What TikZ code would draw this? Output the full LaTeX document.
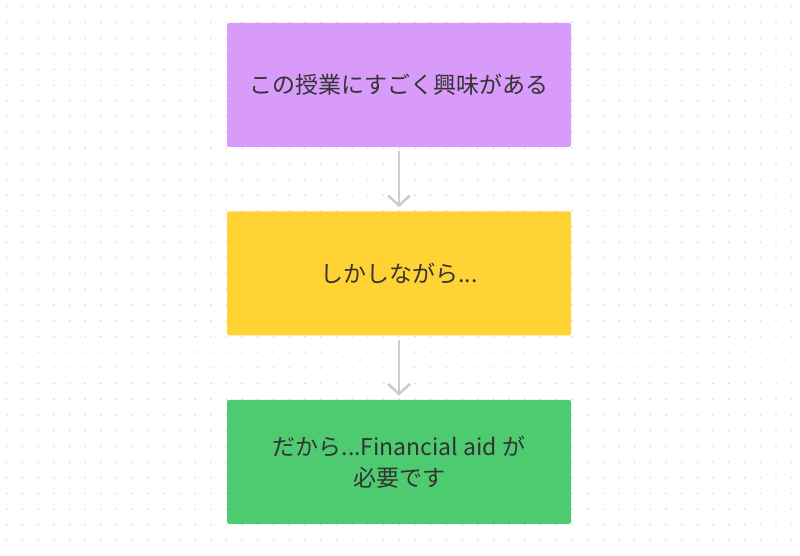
\documentclass[tikz,border=0pt]{standalone}
\usepackage{fontspec}
\setmainfont{Noto Sans CJK JP}
\usetikzlibrary{positioning, arrows.meta}

\definecolor{boxpurple}{HTML}{D89BFA}
\definecolor{boxyellow}{HTML}{FFD333}
\definecolor{boxgreen}{HTML}{4ECB71}
\definecolor{arrowgray}{HTML}{CCCCCC}
\definecolor{dotgray}{HTML}{DEDEDE}
\definecolor{textgray}{HTML}{333333}

\begin{document}
\begin{tikzpicture}[x=1pt, y=-1pt,
		card/.style={rectangle, rounded corners=2pt, minimum width=344pt, minimum height=124pt, inner sep=0pt, align=center, text=textgray, font=\fontsize{23}{31}\selectfont},
		link/.style={-{Straight Barb[length=10pt, width=22pt, line width=2.5pt]}, line width=2.5pt, draw=arrowgray, shorten <=4pt, shorten >=4pt}]
		\def\DotStep{15.7} % odstęp kropek
		\def\DotStart{6.7}
		
		\useasboundingbox (0,0) rectangle (800,556);
		\fill[white] (0,0) rectangle (800,556);
		
		% Siatka kropek w tle
		\foreach \i in {0,...,50}
		\foreach \j in {0,...,35}
		\fill[dotgray] (\DotStart + \i*\DotStep, \DotStart + \j*\DotStep) circle (1pt);
		
		% Trzy karty
		\node[card, fill=boxpurple] (interest) at (399,85) {この授業にすごく興味がある};
		\node[card, fill=boxyellow, below=64pt of interest] (however) {しかしながら...};
		\node[card, fill=boxgreen, below=64pt of however] (aid) {だから...Financial aid が\\必要です};
		
		% Strzałki
		\draw[link] (interest) -- (however);
		\draw[link] (however) -- (aid);
		
	\end{tikzpicture}
\end{document}
